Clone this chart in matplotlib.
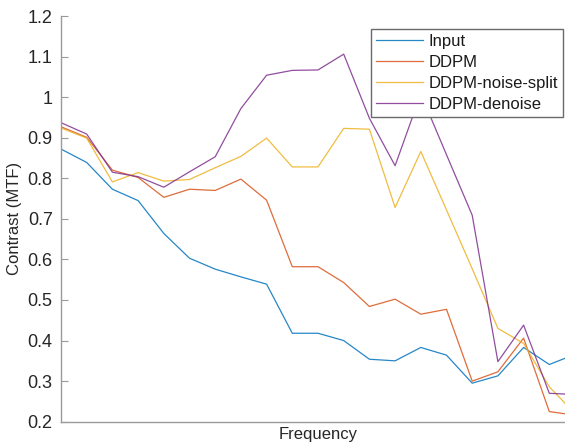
import numpy as np
from matplotlib import pyplot as plt
from matplotlib.ticker import FuncFormatter

plt.rcParams['font.family'] = ['Liberation Sans', 'DejaVu Sans']

# contrast (MTF) per frequency bin
freq_bin = np.arange(21)
mtf_input = [0.872, 0.839, 0.773, 0.745, 0.664, 0.603, 0.576, 0.557, 0.539, 0.418, 0.418,
             0.400, 0.354, 0.350, 0.383, 0.364, 0.295, 0.313, 0.383, 0.341, 0.366]
mtf_ddpm = [0.927, 0.901, 0.820, 0.802, 0.753, 0.773, 0.770, 0.798, 0.746, 0.582, 0.582,
            0.543, 0.484, 0.502, 0.465, 0.477, 0.300, 0.323, 0.406, 0.225, 0.216]
mtf_noise_split = [0.924, 0.899, 0.791, 0.814, 0.793, 0.797, 0.826, 0.854, 0.899, 0.828, 0.828,
                   0.923, 0.921, 0.728, 0.866, 0.722, 0.577, 0.430, 0.393, 0.286, 0.220]
mtf_denoise = [0.937, 0.909, 0.815, 0.804, 0.778, 0.816, 0.853, 0.972, 1.054, 1.066, 1.067,
               1.106, 0.948, 0.831, 1.008, 0.858, 0.709, 0.348, 0.438, 0.270, 0.267]

series = [
    ('Input', mtf_input, '#0072BD'),
    ('DDPM', mtf_ddpm, '#D95319'),
    ('DDPM-noise-split', mtf_noise_split, '#EDB120'),
    ('DDPM-denoise', mtf_denoise, '#7E2F8E'),
]

W, H = 565, 447
fig = plt.figure(figsize=(W / 100, H / 100), dpi=100)
# axes run a bit past the right edge, the original is cropped there
ax = fig.add_axes([61 / W, 25.3 / H, 514 / W, 405.7 / H])

for name, ys, color in series:
    ax.plot(freq_bin, ys, color=color, lw=0.9, alpha=0.85, label=name)

ax.set_xlim(0, 20)
ax.set_ylim(0.2, 1.2)
ax.set_xticks([])
ax.set_yticks(np.arange(0.2, 1.21, 0.1))
ax.yaxis.set_major_formatter(FuncFormatter(lambda v, p: '%g' % round(v, 2)))

for side in ('top', 'right'):
    ax.spines[side].set_visible(False)
for side in ('left', 'bottom'):
    ax.spines[side].set_color('#9a9a9a')
    ax.spines[side].set_linewidth(1.0)

ax.tick_params(axis='y', direction='in', length=5, width=0.8, color='#9a9a9a',
               labelsize=13, labelcolor='#262626', pad=6)

ax.set_xlabel('Frequency', fontsize=12, color='#262626', labelpad=4)
ax.set_ylabel('Contrast (MTF)', fontsize=12, color='#262626', labelpad=4)

leg = ax.legend(loc='upper right', bbox_to_anchor=(0.977, 0.968), borderaxespad=0,
                fontsize=12, fancybox=False, framealpha=1, edgecolor='#6a6a6a',
                handlelength=2.8, handletextpad=0.35, labelspacing=0.36,
                borderpad=0.3)
leg.get_frame().set_linewidth(1.0)
for t in leg.get_texts():
    t.set_color('#1a1a1a')

fig.savefig('out.png', dpi=100)
plt.close(fig)
